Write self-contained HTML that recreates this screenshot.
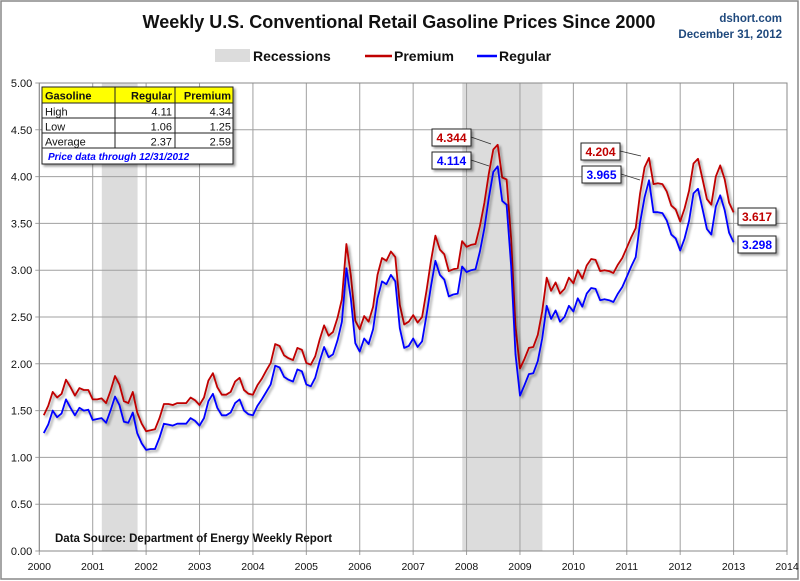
<!DOCTYPE html>
<html><head><meta charset="utf-8">
<style>
body{margin:0;background:#fff;font-family:"Liberation Sans",sans-serif}
#wrap{position:relative;width:800px;height:581px;overflow:hidden}
</style></head>
<body>
<div id="wrap">
<svg id="chart" width="800" height="581" xmlns="http://www.w3.org/2000/svg">
<defs>
<filter id="sh" x="-10%" y="-10%" width="130%" height="140%"><feDropShadow dx="2" dy="2" stdDeviation="1.2" flood-color="#000" flood-opacity="0.4"/></filter>
</defs>
<rect x="1" y="1" width="797" height="578" fill="#fff" stroke="#888" stroke-width="1.5"/>
<text x="399" y="28" text-anchor="middle" font-size="18" font-weight="bold" fill="#111">Weekly U.S. Conventional Retail Gasoline Prices Since 2000</text>
<text x="782" y="22" text-anchor="end" font-size="11.5" font-weight="bold" fill="#1f497d">dshort.com</text>
<text x="782" y="38" text-anchor="end" font-size="11.5" font-weight="bold" fill="#1f497d">December 31, 2012</text>
<g>
<rect x="215" y="49" width="35" height="13" fill="#dcdcdc"/>
<text x="253" y="61" font-size="14" font-weight="bold" fill="#111">Recessions</text>
<line x1="365" y1="56" x2="392" y2="56" stroke="#c00000" stroke-width="2.5"/>
<text x="394" y="61" font-size="14" font-weight="bold" fill="#111">Premium</text>
<line x1="477" y1="56" x2="497" y2="56" stroke="#0000ff" stroke-width="2.5"/>
<text x="499" y="61" font-size="14" font-weight="bold" fill="#111">Regular</text>
</g>
<g id="plot"></g>
</svg>
</div>
<script>
const regular = [
1.26,1.35,1.50,1.43,1.47,1.62,1.53,1.45,1.53,1.50,1.51,1.40,
1.41,1.42,1.37,1.50,1.65,1.56,1.38,1.37,1.48,1.26,1.15,1.08,
1.09,1.09,1.21,1.36,1.35,1.34,1.36,1.36,1.36,1.42,1.39,1.34,
1.42,1.60,1.68,1.53,1.45,1.45,1.48,1.58,1.62,1.50,1.46,1.45,
1.55,1.62,1.70,1.78,1.98,1.96,1.86,1.83,1.81,1.94,1.92,1.78,
1.76,1.85,2.03,2.18,2.07,2.10,2.25,2.45,3.02,2.70,2.22,2.13,
2.27,2.21,2.37,2.70,2.88,2.85,2.95,2.88,2.38,2.17,2.19,2.27,
2.18,2.24,2.52,2.83,3.10,2.95,2.90,2.72,2.74,2.75,3.04,2.98,
3.00,3.01,3.20,3.45,3.77,4.05,4.11,3.74,3.70,3.05,2.10,1.66,
1.77,1.89,1.90,2.03,2.27,2.62,2.48,2.57,2.45,2.50,2.62,2.56,
2.70,2.61,2.75,2.81,2.80,2.68,2.69,2.68,2.66,2.75,2.82,2.93,
3.04,3.14,3.51,3.78,3.96,3.62,3.62,3.61,3.53,3.38,3.34,3.21,
3.34,3.53,3.82,3.87,3.66,3.44,3.38,3.68,3.80,3.64,3.40,3.298];
const premium = [
1.45,1.55,1.70,1.64,1.68,1.83,1.75,1.66,1.74,1.72,1.72,1.62,
1.62,1.63,1.58,1.71,1.87,1.78,1.60,1.58,1.70,1.48,1.36,1.28,
1.29,1.30,1.42,1.57,1.57,1.56,1.58,1.58,1.58,1.64,1.61,1.56,
1.64,1.82,1.90,1.75,1.67,1.67,1.70,1.81,1.85,1.72,1.68,1.67,
1.77,1.84,1.93,2.01,2.21,2.19,2.09,2.06,2.04,2.17,2.15,2.01,
1.99,2.08,2.26,2.41,2.30,2.34,2.49,2.69,3.28,2.95,2.46,2.37,
2.51,2.45,2.61,2.95,3.13,3.10,3.20,3.14,2.63,2.42,2.45,2.52,
2.44,2.50,2.78,3.10,3.37,3.22,3.17,2.99,3.01,3.02,3.31,3.25,
3.27,3.28,3.47,3.72,4.03,4.29,4.34,3.99,3.97,3.34,2.40,1.95,
2.05,2.17,2.18,2.31,2.56,2.92,2.78,2.87,2.75,2.80,2.92,2.86,
3.00,2.91,3.05,3.12,3.11,2.99,3.00,2.99,2.97,3.06,3.13,3.24,
3.35,3.45,3.82,4.10,4.20,3.92,3.93,3.92,3.84,3.69,3.65,3.52,
3.66,3.85,4.14,4.19,3.98,3.76,3.70,4.00,4.12,3.97,3.72,3.617];
const yTicks = [0,0.5,1,1.5,2,2.5,3,3.5,4,4.5,5];
const xYears = [2000,2001,2002,2003,2004,2005,2006,2007,2008,2009,2010,2011,2012,2013,2014];
const recessionStarts = [2001.17,2007.92];
const recessionEnds = [2001.84,2009.42];

const NS="http://www.w3.org/2000/svg";
const g=document.getElementById('plot');
const X0=39.3,X1=787,Y0=551,Y1=83;
const xs=t=>X0+(t-2000)/14*(X1-X0);
const ys=v=>Y0-(v/5)*(Y0-Y1);
const tOf=i=>2000+(i+1)/12;
function mk(tag,attrs){const e=document.createElementNS(NS,tag);for(const k in attrs)e.setAttribute(k,attrs[k]);g.appendChild(e);return e;}

recessionStarts.forEach((s,i)=>{
 const r=mk('rect',{x:xs(s),y:Y1,width:xs(recessionEnds[i])-xs(s),height:Y0-Y1,fill:'#dcdcdc'});
 
 
});
yTicks.forEach(v=>{
 const l=mk('line',{x1:X0-4,x2:X1,y1:ys(v),y2:ys(v),stroke:'#a0a0a0','stroke-width':1});
 
 
 const t=mk('text',{x:X0-7,y:ys(v)+4,'text-anchor':'end','font-size':11,fill:'#111'});
 t.textContent=v.toFixed(2);
 
 
});
xYears.forEach(yr=>{
 const l=mk('line',{x1:xs(yr),x2:xs(yr),y1:Y1,y2:Y0+4,stroke:'#a0a0a0','stroke-width':1});
 
 
 const t=mk('text',{x:xs(yr),y:570,'text-anchor':'middle','font-size':10.5,fill:'#111'});
 t.textContent=yr;
 
 
});
mk('rect',{x:X0,y:Y1,width:X1-X0,height:Y0-Y1,fill:'none',stroke:'#888'});

function series(arr,color,name){
 const d=arr.map((v,i)=>(i?'L':'M')+xs(tOf(i)).toFixed(1)+','+ys(v).toFixed(1)).join('');
 const p=mk('path',{d:d,fill:'none',stroke:color,'stroke-width':1.8,'stroke-linejoin':'round',filter:'url(#sh)'});
 
 
}
series(premium,'#c00000','premium-line');
series(regular,'#0000ff','regular-line');

function callout(x,y,w,txt,color,lx,ly,name){
 if(lx!==null){const l=mk('line',{x1:x+w,y1:y+8,x2:lx,y2:ly,stroke:'#333','stroke-width':0.8});
 
 }
 const r=mk('rect',{x:x,y:y,width:w,height:17,fill:'#fff',stroke:'#222','stroke-width':1,filter:'url(#sh)'});
 
 
 const t=mk('text',{x:x+w/2,y:y+13,'text-anchor':'middle','font-size':12,'font-weight':'bold',fill:color});
 t.textContent=txt;
 
 
}
callout(432,129,39,'4.344','#c00000',491,144,'premium-peak-2008');
callout(432,152,39,'4.114','#0000ff',489,166,'regular-peak-2008');
callout(581,143,39,'4.204','#c00000',641,156,'premium-peak-2011');
callout(582,166,39,'3.965','#0000ff',640,180,'regular-peak-2011');
callout(738,208,38,'3.617','#c00000',null,null,'premium-latest');
callout(738,236,38,'3.298','#0000ff',null,null,'regular-latest');

const tbl=[['Gasoline','Regular','Premium'],['High','4.11','4.34'],['Low','1.06','1.25'],['Average','2.37','2.59']];
const tr=mk('rect',{x:42,y:87,width:191,height:77,fill:'#fff',stroke:'#222',filter:'url(#sh)'});


const hr=mk('rect',{x:42,y:87,width:191,height:16,fill:'#ffff00',stroke:'#222'});


const rowsY=[87,103,118,133,148];
rowsY.forEach(yy=>{const l=mk('line',{x1:42,x2:233,y1:yy,y2:yy,stroke:'#222'});});
[115,175].forEach(xx=>{const l=mk('line',{x1:xx,x2:xx,y1:87,y2:148,stroke:'#222'});});
tbl.forEach((row,ri)=>{
 const yb=rowsY[ri]+12.5;
 const hdr=ri===0;
 const a=mk('text',{x:45,y:yb,'font-size':11,'font-weight':hdr?'bold':'normal',fill:'#111'});
 a.textContent=row[0];
 
 
 const b=mk('text',{x:172,y:yb,'text-anchor':'end','font-size':11,'font-weight':hdr?'bold':'normal',fill:'#111'});
 b.textContent=row[1];
 
 
 const c=mk('text',{x:231,y:yb,'text-anchor':'end','font-size':11,'font-weight':hdr?'bold':'normal',fill:'#111'});
 c.textContent=row[2];
 
 
});
const note=mk('text',{x:48,y:160,'font-size':10,'font-weight':'bold','font-style':'italic',fill:'#0000ff'});
note.textContent='Price data through 12/31/2012';



const src=mk('text',{x:55,y:542,'font-size':11.5,'font-weight':'bold',fill:'#111'});
src.textContent='Data Source: Department of Energy Weekly Report';


</script>
</body></html>
